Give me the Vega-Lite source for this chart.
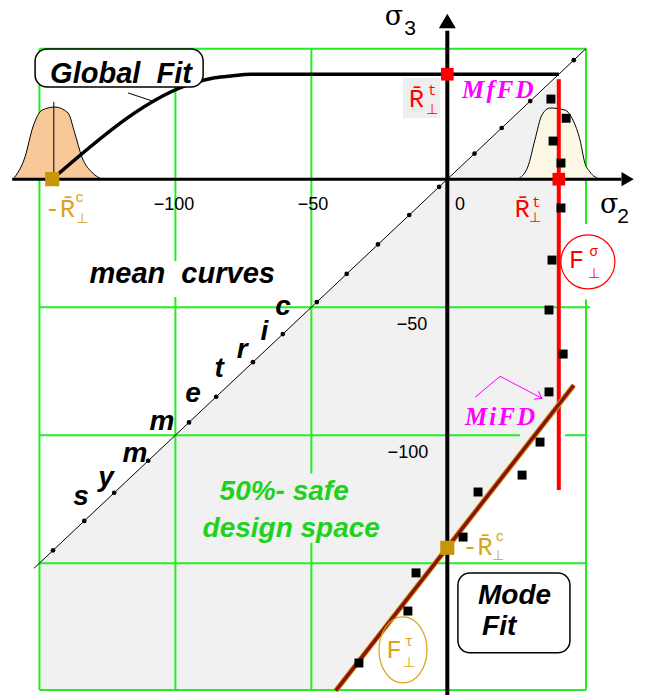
{
  "$schema": "https://vega.github.io/schema/vega-lite/v6.json",
  "width": 645,
  "height": 695,
  "padding": 0,
  "autosize": {"type": "none"},
  "background": "white",
  "config": {"view": {"stroke": null}},
  "datasets": {
    "safe": [
      {"x": -150, "y": -150, "y2": -199.5},
      {"x": -40.8, "y": -40.8, "y2": -199.5},
      {"x": 41, "y": 40, "y2": -88}
    ],
    "backdrop": [{"x": -16.3, "x2": -2.7, "y": 39.5, "y2": 23.9}],
    "grid": [
      {"x": -150, "x2": -150, "y": 51, "y2": -199.5},
      {"x": -100, "x2": -100, "y": 51, "y2": -32},
      {"x": -100, "x2": -100, "y": -46, "y2": -199.5},
      {"x": -50, "x2": -50, "y": 51, "y2": -115},
      {"x": -50, "x2": -50, "y": -142, "y2": -199.5},
      {"x": 51, "x2": 51, "y": 51, "y2": -17.5},
      {"x": 51, "x2": 51, "y": -47, "y2": -199.5},
      {"x": -150, "x2": 51, "y": 51, "y2": 51},
      {"x": -150, "x2": 52.5, "y": -50, "y2": -50},
      {"x": -150, "x2": 26.7, "y": -100, "y2": -100},
      {"x": 43.3, "x2": 51, "y": -100, "y2": -100},
      {"x": -150, "x2": 51, "y": -150, "y2": -150},
      {"x": -150, "x2": 51, "y": -199.5, "y2": -199.5}
    ],
    "leftBell": [
      {"x": -159.7, "y": 0}, {"x": -155.3, "y": 8.7}, {"x": -152.4, "y": 20.4},
      {"x": -149, "y": 27}, {"x": -144.3, "y": 28.2}, {"x": -139.5, "y": 25.9},
      {"x": -137, "y": 18}, {"x": -134.4, "y": 8.7}, {"x": -130.4, "y": 2.4},
      {"x": -127, "y": 0}
    ],
    "stem": [{"x": -144.7, "y": 30.2}, {"x": -144.7, "y": 0}],
    "rightBell": [
      {"x": 25.9, "y": 0}, {"x": 29.6, "y": 4.8}, {"x": 32.2, "y": 15.3},
      {"x": 34.8, "y": 25.1}, {"x": 37.8, "y": 27.8}, {"x": 43.3, "y": 27},
      {"x": 46.2, "y": 23.1}, {"x": 48.8, "y": 15.3}, {"x": 50.6, "y": 6.3},
      {"x": 52.5, "y": 2.8}, {"x": 56.2, "y": 0}
    ],
    "diag": [{"x": -152, "y": -152}, {"x": 51, "y": 51}],
    "diagDots": [
      {"x": -145, "y": -145}, {"x": -133.5, "y": -133.5}, {"x": -122.5, "y": -122.5},
      {"x": -110, "y": -110}, {"x": -95, "y": -95}, {"x": -85, "y": -85},
      {"x": -71.5, "y": -71.5}, {"x": -60.5, "y": -60.5}, {"x": -48, "y": -48},
      {"x": -37, "y": -37}, {"x": -25.5, "y": -25.5}, {"x": -14, "y": -14},
      {"x": -3, "y": -3}, {"x": 10, "y": 10}, {"x": 20, "y": 20},
      {"x": 30.5, "y": 30.5}, {"x": 46.5, "y": 46.5}
    ],
    "globalFit": [
      {"x": -145.3, "y": 0}, {"x": -92, "y": 38}, {"x": -85.5, "y": 39.6},
      {"x": -78.8, "y": 40.4}, {"x": -72.5, "y": 41}, {"x": 41, "y": 41}
    ],
    "leader": [{"x": -117.4, "y": 33.7}, {"x": -107.5, "y": 30.2}],
    "axisH": [{"x": -160, "x2": 64, "y": 0, "y2": 0}],
    "axisV": [{"x": 0, "x2": 0, "y": 58, "y2": -201.5}],
    "arrowRight": [{"x": 66.3, "y": 0}],
    "arrowUp": [{"x": 0, "y": 61.8}],
    "sigmaLine": [{"x": 41, "x2": 41, "y": 39, "y2": -121.4}],
    "tauLine": [{"x": -41, "x2": 46.5, "y": -199.8, "y2": -80.5}],
    "mifdArrow": [{"x": 10.2, "y": -85.2}, {"x": 19.4, "y": -77}, {"x": 34.8, "y": -85.6}],
    "mifdHead": [{"x": 34.8, "y": -85.6}],
    "samples": [
      {"x": 38.1, "y": 31.3}, {"x": 43.7, "y": 23.8}, {"x": 38.9, "y": 14.9},
      {"x": 41.8, "y": 6.3}, {"x": 41.8, "y": -11.25}, {"x": 38.5, "y": -31.6},
      {"x": 37.4, "y": -51.1}, {"x": 42.6, "y": -68.3}, {"x": 37.4, "y": -83.1},
      {"x": 34.1, "y": -102.7}, {"x": 27.5, "y": -115.6}, {"x": 11.3, "y": -122.2},
      {"x": 5.8, "y": -139.8}, {"x": -11.5, "y": -153.8}, {"x": -14.5, "y": -168.7},
      {"x": -32.5, "y": -189}
    ],
    "tensile": [{"x": 0, "y": 41}, {"x": 41, "y": 0}],
    "compressive": [{"x": -145.3, "y": 0}, {"x": 0, "y": -144}],
    "sigmaRing": [{"x": 51.7, "y": -32.3}],
    "tauRing": [{"x": -16.3, "y": -183.9}],
    "boxes": [
      {"x": -151.6, "x2": -89.8, "y": 50.9, "y2": 36},
      {"x": 3.9, "x2": 45.1, "y": -153.8, "y2": -185}
    ],
    "bigLabels": [
      {"x": -97.5, "y": -40.5, "t": "mean\u00a0 curves"},
      {"x": -120, "y": 37.5, "t": "Global\u00a0 Fit"}
    ],
    "modeLabels": [
      {"x": 11.3, "y": -166.1, "t": "Mode"},
      {"x": 12.8, "y": -178, "t": "Fit"}
    ],
    "symLetters": [
      {"x": -134.7, "y": -127.3, "t": "s"},
      {"x": -125.5, "y": -119.8, "t": "y"},
      {"x": -114.9, "y": -110.5, "t": "m"},
      {"x": -104.9, "y": -98, "t": "m"},
      {"x": -93.5, "y": -87, "t": "e"},
      {"x": -83.9, "y": -77.3, "t": "t"},
      {"x": -75.4, "y": -69.8, "t": "r"},
      {"x": -67.3, "y": -62.8, "t": "i"},
      {"x": -60.4, "y": -53, "t": "c"}
    ],
    "safeLabels": [
      {"x": -60, "y": -125.3, "t": "50%- safe"},
      {"x": -57.4, "y": -139.7, "t": "design space"}
    ],
    "ticks": [
      {"x": -100.5, "y": -12.1, "t": "\u2212100"},
      {"x": -49.4, "y": -12.1, "t": "\u221250"},
      {"x": 4.7, "y": -12.1, "t": "0"},
      {"x": -13, "y": -58.9, "t": "\u221250"},
      {"x": -14.5, "y": -108.9, "t": "\u2212100"}
    ],
    "sigmaGlyph": [
      {"x": -19.6, "y": 60.2, "t": "\u03c3"},
      {"x": 59.5, "y": -13.2, "t": "\u03c3"}
    ],
    "sigmaIndex": [
      {"x": -13.7, "y": 56.3, "t": "3"},
      {"x": 64.6, "y": -17.1, "t": "2"}
    ],
    "redMain": [
      {"x": -11.3, "y": 28.2, "t": "R\u0304"},
      {"x": 27.6, "y": -14.8, "t": "R\u0304"},
      {"x": 47.5, "y": -34.7, "t": "F"}
    ],
    "redSmall": [
      {"x": -5.6, "y": 32.9, "t": "t"},
      {"x": -5.6, "y": 25.6, "t": "\u22a5"},
      {"x": 32.8, "y": -10.9, "t": "t"},
      {"x": 32.4, "y": -16.6, "t": "\u22a5"},
      {"x": 53.8, "y": -30.2, "t": "\u03c3"},
      {"x": 53.8, "y": -38.6, "t": "\u22a5"}
    ],
    "goldMain": [
      {"x": -142.4, "y": -14.8, "t": "-R\u0304"},
      {"x": 11.1, "y": -146.8, "t": "-R\u0304"},
      {"x": -19.6, "y": -187, "t": "F"}
    ],
    "goldSmall": [
      {"x": -135.2, "y": -9.1, "t": "c"},
      {"x": -134.3, "y": -17.1, "t": "\u22a5"},
      {"x": 19.4, "y": -141.5, "t": "c"},
      {"x": 18.6, "y": -148.75, "t": "\u22a5"},
      {"x": -14.1, "y": -182.5, "t": "\u03c4"},
      {"x": -14.1, "y": -190.5, "t": "\u22a5"}
    ],
    "fracture": [
      {"x": 18.6, "y": 31.7, "t": "M\u200af\u200aF\u200aD"},
      {"x": 19.4, "y": -96, "t": "M\u200ai\u200aF\u200aD"}
    ]
  },
  "encoding": {
    "x": {"field": "x", "type": "quantitative", "scale": {"domain": [-164.5, 72.7], "nice": false, "zero": false}, "axis": null},
    "y": {"field": "y", "type": "quantitative", "scale": {"domain": [-201.5, 70], "nice": false, "zero": false}, "axis": null}
  },
  "layer": [
    {"data": {"name": "safe"}, "mark": {"type": "area", "fill": "#f1f1f1"}, "encoding": {"y2": {"field": "y2"}}},
    {"data": {"name": "backdrop"}, "mark": {"type": "rect", "fill": "#eeeeee"}, "encoding": {"x2": {"field": "x2"}, "y2": {"field": "y2"}}},
    {"data": {"name": "grid"}, "mark": {"type": "rule", "color": "#22ee22", "strokeWidth": 2}, "encoding": {"x2": {"field": "x2"}, "y2": {"field": "y2"}}},
    {"data": {"name": "leftBell"}, "mark": {"type": "area", "fill": "#f9c898", "stroke": "black", "strokeWidth": 1, "interpolate": "monotone"}, "encoding": {"y2": {"datum": 0}}},
    {"data": {"name": "stem"}, "mark": {"type": "line", "color": "black", "strokeWidth": 1}, "encoding": {}},
    {"data": {"name": "rightBell"}, "mark": {"type": "area", "fill": "#fcf6e4", "stroke": "black", "strokeWidth": 1, "interpolate": "monotone"}, "encoding": {"y2": {"datum": 0}}},
    {"data": {"name": "diag"}, "mark": {"type": "line", "color": "black", "strokeWidth": 1}, "encoding": {}},
    {"data": {"name": "diagDots"}, "mark": {"type": "point", "shape": "circle", "filled": true, "color": "black", "size": 22, "opacity": 1}},
    {"data": {"name": "globalFit"}, "mark": {"type": "line", "color": "black", "strokeWidth": 3.5, "interpolate": "monotone"}, "encoding": {}},
    {"data": {"name": "leader"}, "mark": {"type": "line", "color": "black", "strokeWidth": 1}, "encoding": {}},
    {"data": {"name": "axisH"}, "mark": {"type": "rule", "color": "black", "strokeWidth": 3}, "encoding": {"x2": {"field": "x2"}, "y2": {"field": "y2"}}},
    {"data": {"name": "axisV"}, "mark": {"type": "rule", "color": "black", "strokeWidth": 4}, "encoding": {"x2": {"field": "x2"}, "y2": {"field": "y2"}}},
    {"data": {"name": "arrowRight"}, "mark": {"type": "point", "shape": "triangle-right", "filled": true, "color": "black", "size": 200, "opacity": 1}},
    {"data": {"name": "arrowUp"}, "mark": {"type": "point", "shape": "triangle-up", "filled": true, "color": "black", "size": 289, "opacity": 1}},
    {"data": {"name": "sigmaLine"}, "mark": {"type": "rule", "color": "#ff0000", "strokeWidth": 4}, "encoding": {"x2": {"field": "x2"}, "y2": {"field": "y2"}}},
    {"data": {"name": "tauLine"}, "mark": {"type": "rule", "color": "#d9a21b", "strokeWidth": 5.5}, "encoding": {"x2": {"field": "x2"}, "y2": {"field": "y2"}}},
    {"data": {"name": "tauLine"}, "mark": {"type": "rule", "color": "#8b1212", "strokeWidth": 3.5}, "encoding": {"x2": {"field": "x2"}, "y2": {"field": "y2"}}},
    {"data": {"name": "mifdArrow"}, "mark": {"type": "line", "color": "#ff00ff", "strokeWidth": 1}, "encoding": {}},
    {"data": {"name": "mifdHead"}, "mark": {"type": "point", "shape": "M-1,-0.7L0,0L-1,0.7", "filled": false, "stroke": "#ff00ff", "strokeWidth": 1, "angle": 28, "size": 169, "opacity": 1}},
    {"data": {"name": "samples"}, "mark": {"type": "point", "shape": "square", "filled": true, "color": "black", "size": 80, "opacity": 1}},
    {"data": {"name": "tensile"}, "mark": {"type": "point", "shape": "square", "filled": true, "color": "#ff0000", "size": 160, "opacity": 1}},
    {"data": {"name": "compressive"}, "mark": {"type": "point", "shape": "square", "filled": true, "color": "#c8960a", "size": 200, "opacity": 1}},
    {"data": {"name": "sigmaRing"}, "mark": {"type": "point", "shape": "circle", "filled": false, "stroke": "#ff0000", "strokeWidth": 1.2, "size": 2916, "opacity": 1}},
    {"data": {"name": "tauRing"}, "mark": {"type": "point", "shape": "M0,-1C0.4015,-1,0.727,-0.5523,0.727,0C0.727,0.5523,0.4015,1,0,1C-0.4015,1,-0.727,0.5523,-0.727,0C-0.727,-0.5523,-0.4015,-1,0,-1Z", "filled": false, "stroke": "#d9a21b", "strokeWidth": 1.2, "size": 4356, "opacity": 1}},
    {"data": {"name": "boxes"}, "mark": {"type": "rect", "fill": "white", "stroke": "black", "strokeWidth": 1.5, "cornerRadius": 12}, "encoding": {"x2": {"field": "x2"}, "y2": {"field": "y2"}}},
    {"data": {"name": "bigLabels"}, "mark": {"type": "text", "font": "Liberation Sans", "fontStyle": "italic", "fontWeight": "bold", "fontSize": 29, "align": "center", "baseline": "alphabetic", "color": "black"}, "encoding": {"text": {"field": "t"}}},
    {"data": {"name": "modeLabels"}, "mark": {"type": "text", "font": "Liberation Sans", "fontStyle": "italic", "fontWeight": "bold", "fontSize": 28, "align": "left", "baseline": "alphabetic", "color": "black"}, "encoding": {"text": {"field": "t"}}},
    {"data": {"name": "symLetters"}, "mark": {"type": "text", "font": "Liberation Sans", "fontStyle": "italic", "fontWeight": "bold", "fontSize": 28, "align": "center", "baseline": "alphabetic", "color": "black"}, "encoding": {"text": {"field": "t"}}},
    {"data": {"name": "safeLabels"}, "mark": {"type": "text", "font": "Liberation Sans", "fontStyle": "italic", "fontWeight": "bold", "fontSize": 28, "align": "center", "baseline": "alphabetic", "color": "#1ed21e"}, "encoding": {"text": {"field": "t"}}},
    {"data": {"name": "ticks"}, "mark": {"type": "text", "font": "Liberation Sans", "fontSize": 18, "align": "center", "baseline": "alphabetic", "color": "black"}, "encoding": {"text": {"field": "t"}}},
    {"data": {"name": "sigmaGlyph"}, "mark": {"type": "text", "font": "DejaVu Serif", "fontSize": 27, "align": "center", "baseline": "alphabetic", "color": "black"}, "encoding": {"text": {"field": "t"}}},
    {"data": {"name": "sigmaIndex"}, "mark": {"type": "text", "font": "Liberation Sans", "fontSize": 21, "align": "center", "baseline": "alphabetic", "color": "black"}, "encoding": {"text": {"field": "t"}}},
    {"data": {"name": "redMain"}, "mark": {"type": "text", "font": "Liberation Mono", "fontSize": 25, "align": "center", "baseline": "alphabetic", "color": "#ff0000"}, "encoding": {"text": {"field": "t"}}},
    {"data": {"name": "redSmall"}, "mark": {"type": "text", "font": "Liberation Mono", "fontSize": 14, "align": "center", "baseline": "alphabetic", "color": "#ff0000"}, "encoding": {"text": {"field": "t"}}},
    {"data": {"name": "goldMain"}, "mark": {"type": "text", "font": "Liberation Mono", "fontSize": 25, "align": "center", "baseline": "alphabetic", "color": "#d9a21b"}, "encoding": {"text": {"field": "t"}}},
    {"data": {"name": "goldSmall"}, "mark": {"type": "text", "font": "Liberation Mono", "fontSize": 14, "align": "center", "baseline": "alphabetic", "color": "#d9a21b"}, "encoding": {"text": {"field": "t"}}},
    {"data": {"name": "fracture"}, "mark": {"type": "text", "font": "Liberation Serif", "fontStyle": "italic", "fontWeight": "bold", "fontSize": 25, "align": "center", "baseline": "alphabetic", "color": "#ff00ff"}, "encoding": {"text": {"field": "t"}}}
  ]
}
